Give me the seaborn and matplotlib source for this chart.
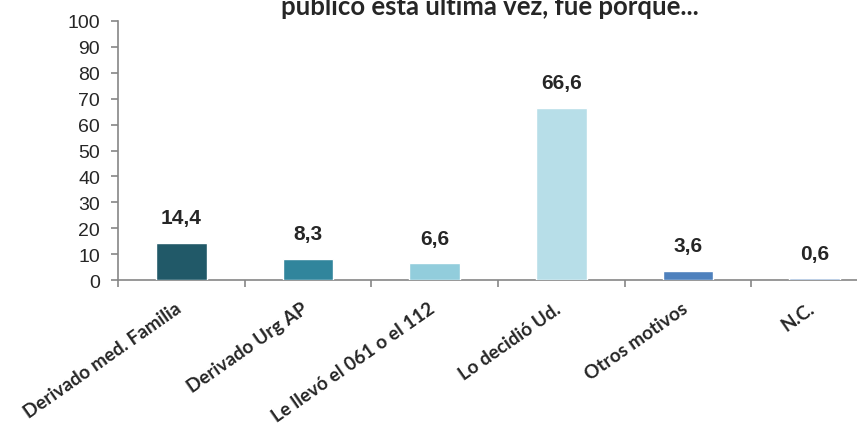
import matplotlib
matplotlib.use("Agg")
import matplotlib.pyplot as plt
import matplotlib.transforms as mtransforms
import seaborn as sns
import pandas as pd

categories = ["Derivado med. Familia", "Derivado Urg AP", "Le llevó el 061 o el 112",
              "Lo decidió Ud.", "Otros motivos", "N.C."]
values = [14.4, 8.3, 6.6, 66.6, 3.6, 0.6]
value_labels = ["14,4", "8,3", "6,6", "66,6", "3,6", "0,6"]
bar_colors = ["#215968", "#31859C", "#92CDDC", "#B7DEE8", "#4F81BD", "#95B3D7"]
yticks = [0, 10, 20, 30, 40, 50, 60, 70, 80, 90, 100]
title_text = "público esta última vez, fue porque..."

sns.set_style("white")
plt.rcParams["font.family"] = ["Liberation Sans", "DejaVu Sans"]

df = pd.DataFrame({"cat": categories, "val": values})

fig = plt.figure(figsize=(8.57, 4.27), dpi=100)
ax = fig.add_axes([118 / 857, 146 / 427, 760 / 857, 259 / 427])

sns.barplot(data=df, x="cat", y="val", hue="cat", palette=bar_colors,
            dodge=False, legend=False, width=0.4, ax=ax, saturation=1)

ax.set_xlim(-0.5, 5.5)
ax.set_ylim(0, 100)
ax.set_yticks(yticks)
ax.set_yticklabels([str(t) for t in yticks], fontsize=14)
ax.set_xlabel("")
ax.set_ylabel("")

axis_col = "#868686"
for s in ["top", "right"]:
    ax.spines[s].set_visible(False)
for s in ["left", "bottom"]:
    ax.spines[s].set_color(axis_col)
    ax.spines[s].set_linewidth(1.2)

ax.tick_params(axis="y", direction="out", length=5, width=1.2, color=axis_col, pad=8, left=True)
ax.set_xticks(range(len(categories)))
ax.set_xticklabels(categories, rotation=35, ha="right", va="center", rotation_mode="anchor",
                   fontsize=13.6, fontweight="bold", family=["Lato", "DejaVu Sans"])
ax.tick_params(axis="x", which="major", length=0, pad=19)
shift = mtransforms.ScaledTranslation(-2 / 100, 0, fig.dpi_scale_trans)
for lbl in ax.get_xticklabels():
    lbl.set_transform(lbl.get_transform() + shift)
ax.set_xticks([i - 0.5 for i in range(len(categories) + 1)], minor=True)
ax.tick_params(axis="x", which="minor", direction="out", length=5, width=1.2, color=axis_col, bottom=True)

for p in ax.patches:
    p.set_zorder(3)

for i, (v, lab) in enumerate(zip(values, value_labels)):
    ax.annotate(lab, (i, v), xytext=(0, 11), textcoords="offset points",
                ha="center", va="bottom", fontsize=15, fontweight="bold")

fig.text(490 / 857, 1 - 15 / 427, title_text, ha="center", va="baseline",
         fontsize=18.5, fontweight="bold", family=["Lato", "DejaVu Sans"])

fig.savefig("out.png", dpi=100)
